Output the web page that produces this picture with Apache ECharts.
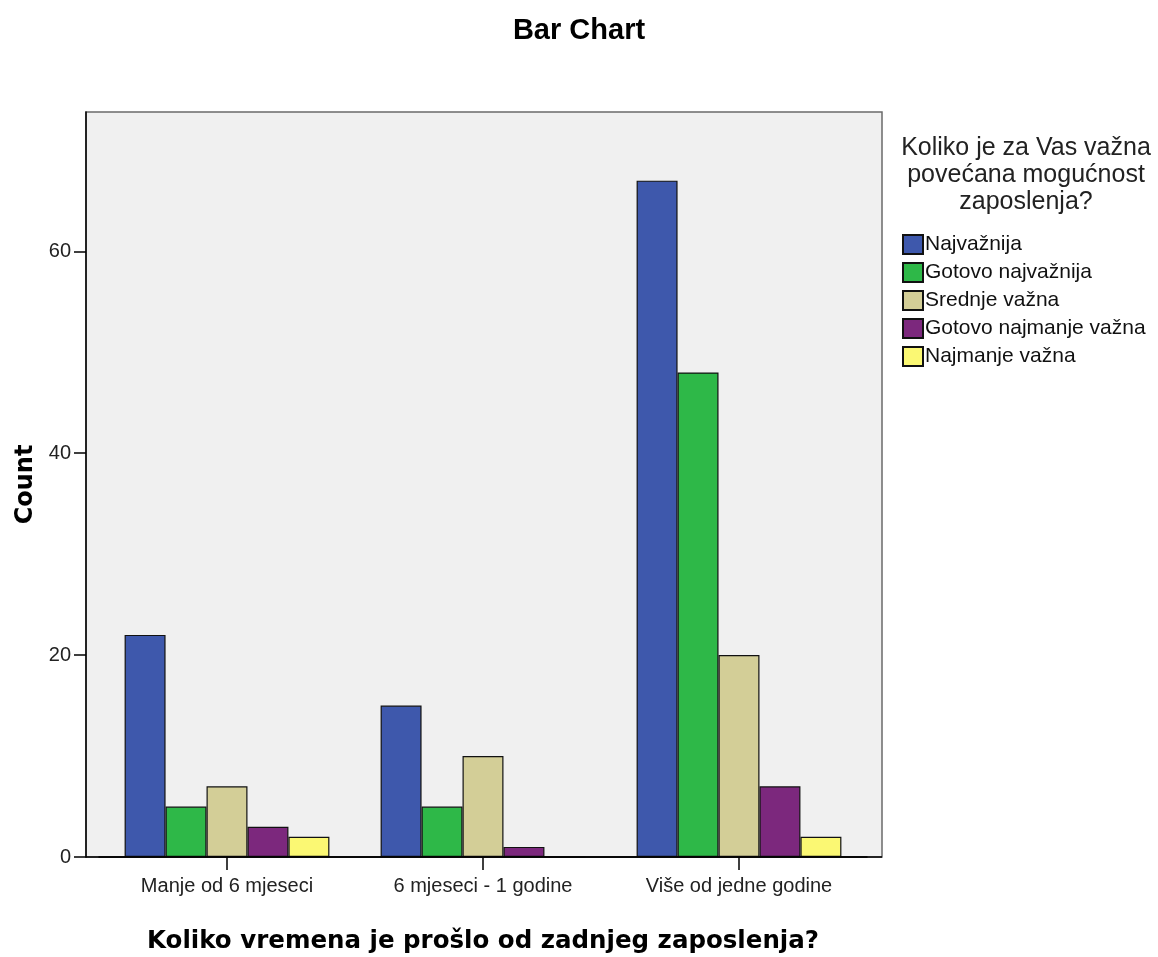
<!DOCTYPE html>
<html>
<head>
<meta charset="utf-8">
<script src="https://cdn.jsdelivr.net/npm/echarts@6/dist/echarts.min.js"></script>
<style>
  html, body { margin: 0; padding: 0; background: #ffffff; }
  #chart { width: 1158px; height: 957px; }
</style>
</head>
<body>
<div id="chart"></div>
<script>
const categories = ['Manje od 6 mjeseci', '6 mjeseci - 1 godine', 'Više od jedne godine'];
const seriesNames = ['Najvažnija', 'Gotovo najvažnija', 'Srednje važna', 'Gotovo najmanje važna', 'Najmanje važna'];
const najvaznija = [22, 15, 67];
const gotovoNajvaznija = [5, 5, 48];
const srednjeVazna = [7, 10, 20];
const gotovoNajmanjeVazna = [3, 1, 7];
const najmanjeVazna = [2, 0, 2];
const yTicks = [0, 20, 40, 60];
const colors = ['#3E58AC', '#2EB848', '#D3CE97', '#7C287D', '#FBF873'];

const seriesData = [najvaznija, gotovoNajvaznija, srednjeVazna, gotovoNajmanjeVazna, najmanjeVazna];

const chart = echarts.init(document.getElementById('chart'), null, { renderer: 'canvas' });

const plotLeft = 86, plotRight = 882, plotTop = 112, plotBottom = 857;
const gridLeft = 99, gridRight = 867;

chart.setOption({
  backgroundColor: '#ffffff',
  animation: false,
  title: [
    {
      text: 'Bar Chart',
      left: 'center',
      top: 11,
      textStyle: { fontFamily: 'Liberation Sans, Arial, sans-serif', fontWeight: 'bold', fontSize: 29, color: '#000' }
    },
    {
      text: 'Koliko je za Vas važna\npovećana mogućnost\nzaposlenja?',
      left: 1021,
      top: 130,
      textAlign: 'center',
      textStyle: { fontFamily: 'Liberation Sans, Arial, sans-serif', fontWeight: 'normal', fontSize: 25, lineHeight: 27, color: '#222', align: 'center' }
    }
  ],
  legend: {
    orient: 'vertical',
    left: 897,
    top: 229,
    itemWidth: 20,
    itemHeight: 19,
    itemGap: 7,
    icon: 'rect',
    data: seriesNames,
    textStyle: { fontFamily: 'Liberation Sans, Arial, sans-serif', fontSize: 21, color: '#111', padding: [0, 0, 0, -3] }
  },
  graphic: [
    {
      type: 'rect',
      z: -10,
      silent: true,
      shape: { x: plotLeft, y: plotTop, width: plotRight - plotLeft, height: plotBottom - plotTop },
      style: { fill: '#F0F0F0', stroke: '#6a6a6a', lineWidth: 1.5 }
    },
    {
      type: 'line',
      z: 100,
      silent: true,
      shape: { x1: plotLeft, y1: plotBottom, x2: plotRight, y2: plotBottom },
      style: { stroke: '#000', lineWidth: 1.5 }
    }
  ],
  grid: {
    left: gridLeft,
    right: 1158 - gridRight,
    top: plotTop,
    bottom: 957 - plotBottom,
    containLabel: false,
    outerBoundsMode: 'none'
  },
  xAxis: {
    type: 'category',
    data: categories,
    name: 'Koliko vremena je prošlo od zadnjeg zaposlenja?',
    nameLocation: 'middle',
    nameGap: 72,
    nameTextStyle: { fontFamily: 'DejaVu Sans, Verdana, sans-serif', fontWeight: 'bold', fontSize: 24.5, color: '#000' },
    axisLine: { show: true, lineStyle: { color: '#000', width: 1.5 } },
    axisTick: { show: true, alignWithLabel: true, length: 13, lineStyle: { color: '#000', width: 1.5 } },
    axisLabel: { margin: 19, fontFamily: 'Liberation Sans, Arial, sans-serif', fontSize: 20, color: '#222' },
    splitLine: { show: false }
  },
  yAxis: {
    type: 'value',
    min: 0,
    max: 73.8,
    interval: 20,
    offset: gridLeft - plotLeft,
    name: 'Count',
    nameLocation: 'middle',
    nameRotate: 90,
    nameGap: 47,
    nameTextStyle: { fontFamily: 'DejaVu Sans, Verdana, sans-serif', fontWeight: 'bold', fontSize: 24, color: '#000' },
    axisLine: { show: true, lineStyle: { color: '#000', width: 1.5 } },
    axisTick: { show: true, length: 12, customValues: yTicks, lineStyle: { color: '#000', width: 1.5 } },
    axisLabel: { margin: 15, customValues: yTicks, fontFamily: 'Liberation Sans, Arial, sans-serif', fontSize: 20, color: '#222' },
    splitLine: { show: false }
  },
  series: seriesNames.map((name, i) => ({
    name: name,
    type: 'bar',
    data: seriesData[i],
    barGap: '0%',
    barCategoryGap: '20%',
    itemStyle: { color: colors[i], borderColor: '#111', borderWidth: 1.2 },
    emphasis: { disabled: true }
  }))
});
</script>
</body>
</html>
